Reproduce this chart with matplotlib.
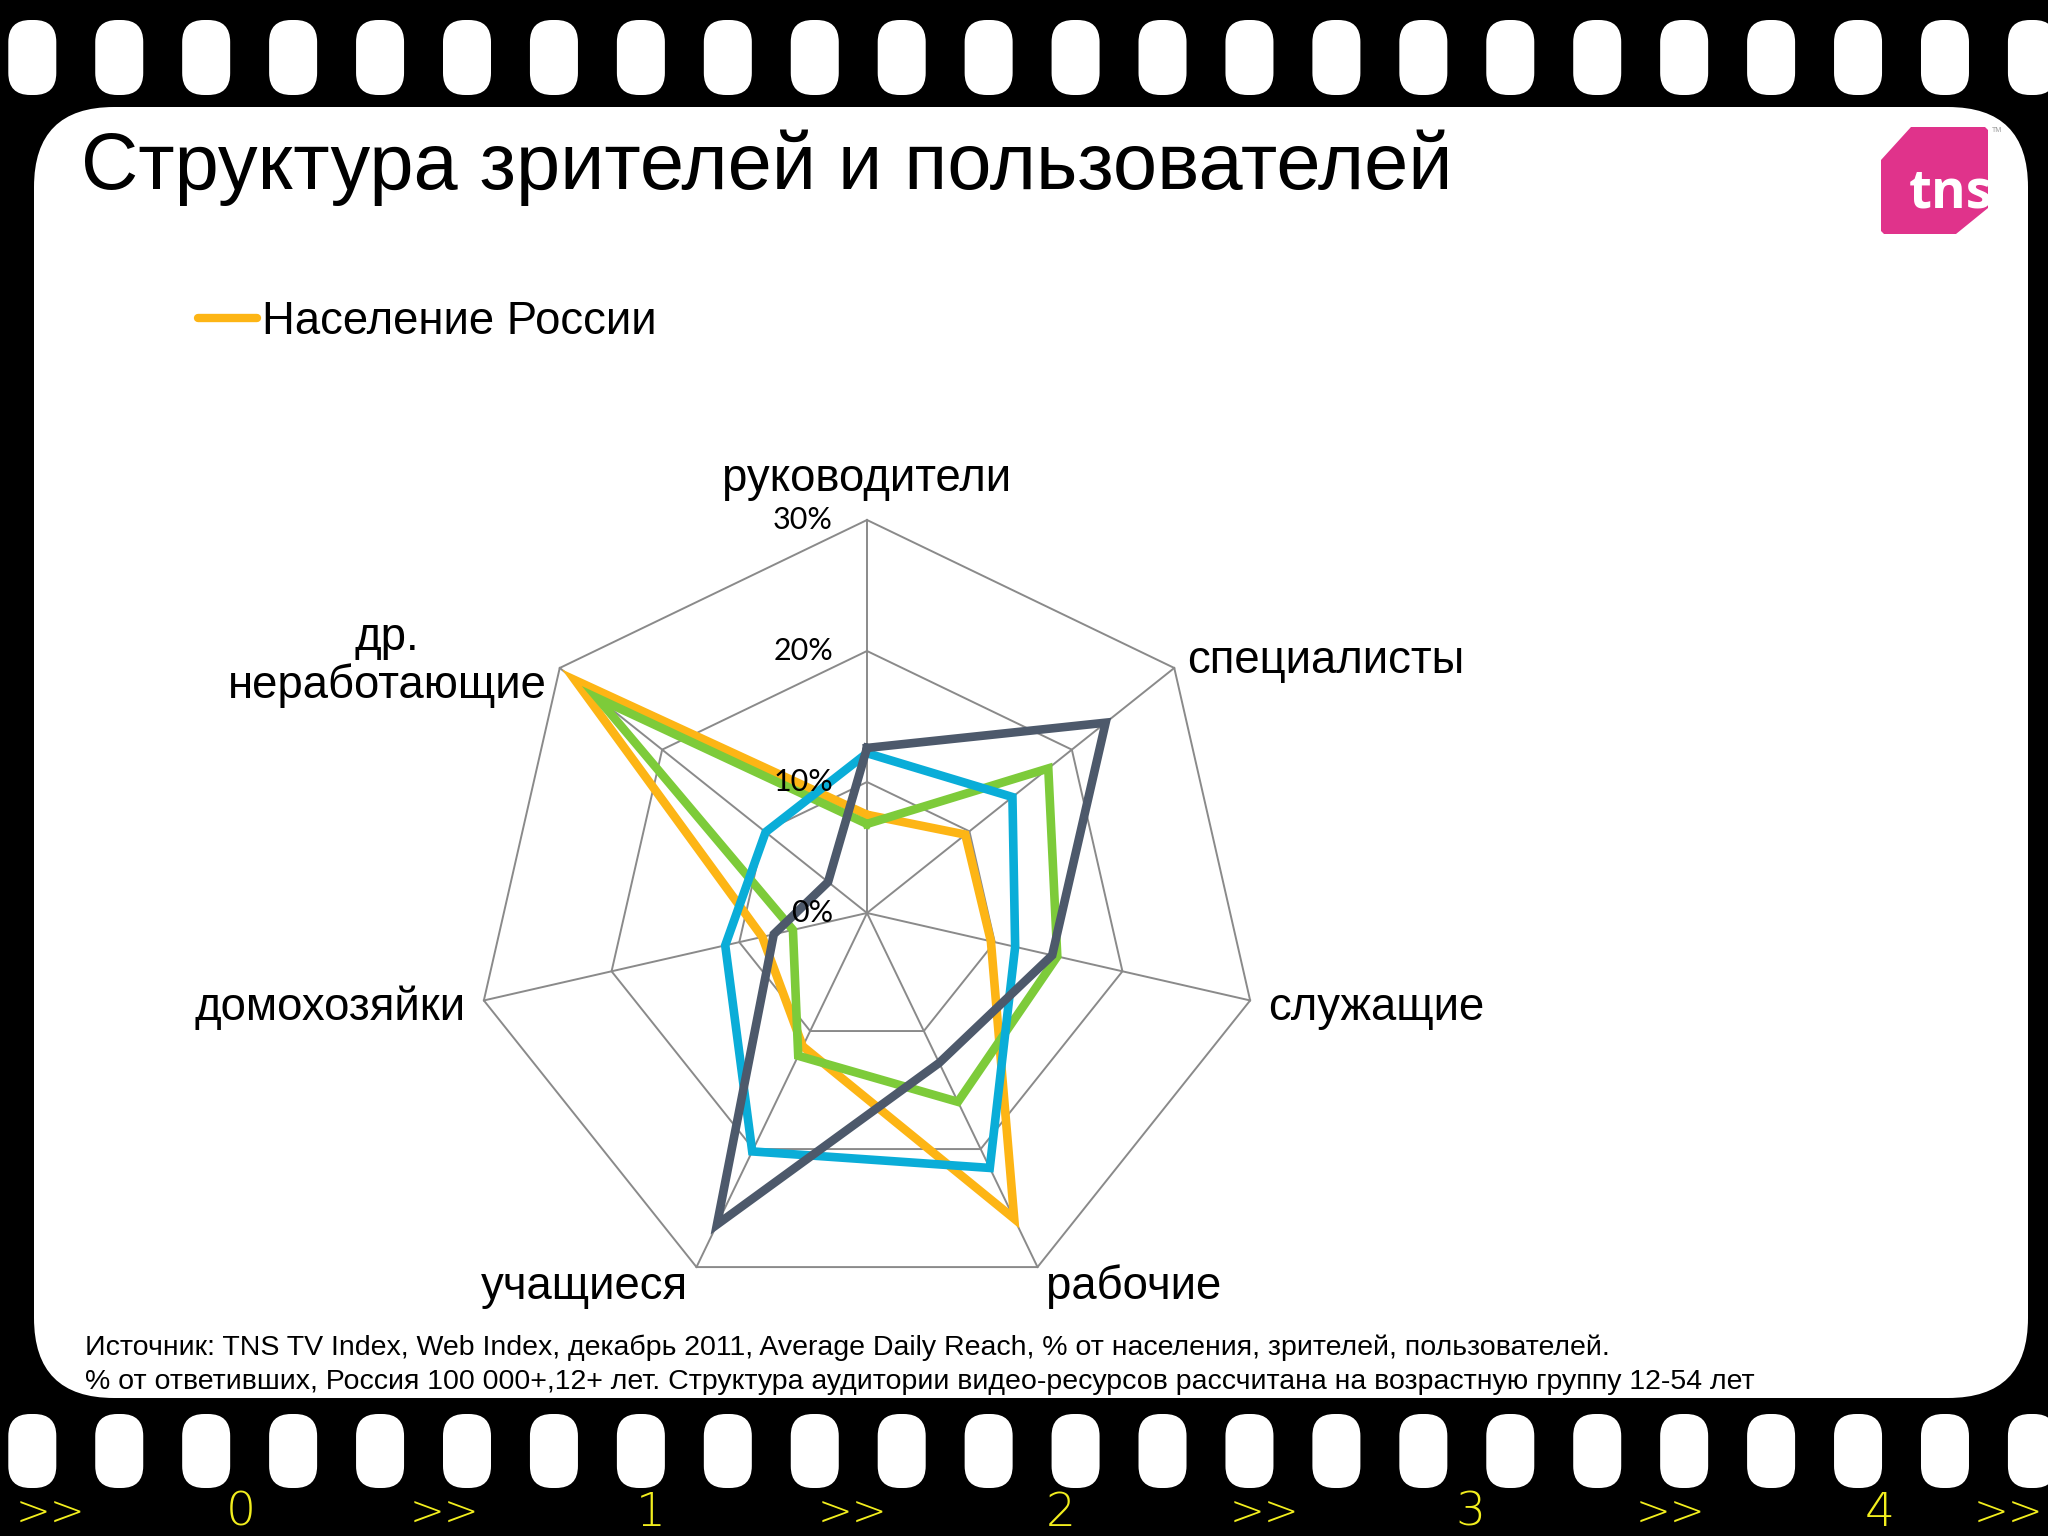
import matplotlib
matplotlib.use("Agg")
import matplotlib.pyplot as plt
from matplotlib.patches import FancyBboxPatch, Polygon
from matplotlib.lines import Line2D
import numpy as np

# ---------------- data ----------------
categories = ["руководители", "специалисты", "служащие", "рабочие",
              "учащиеся", "домохозяйки", "др.\nнеработающие"]
series_names = ["Население России", "Зрители ТВ", "Пользователи Интернет",
                "Пользователи видео-ресурсов"]
population = [7.5, 9.6, 9.7, 25.9, 11.3, 8.2, 28.5]
tv_viewers = [6.8, 17.7, 14.9, 16.0, 12.1, 5.8, 26.3]
internet_users = [12.2, 14.2, 11.6, 21.6, 20.2, 11.1, 9.9]
video_users = [12.6, 23.3, 14.5, 12.7, 26.4, 7.3, 3.8]
ring_values = [0, 10, 20, 30]
ring_labels = ["0%", "10%", "20%", "30%"]
strip_digits = ["0", "1", "2", "3", "4"]

colors = ["#FDB515", "#7DCB3A", "#0AADD8", "#4D596B"]

W, H = 2048, 1536
fig = plt.figure(figsize=(W / 100, H / 100), dpi=100, facecolor="black")

# ---------------- background / film strip ----------------
bg = fig.add_axes([0, 0, 1, 1])
bg.set_xlim(0, W)
bg.set_ylim(H, 0)
bg.axis("off")

bg.add_patch(FancyBboxPatch((34, 107), 1994, 1291,
                            boxstyle="round,pad=0,rounding_size=80",
                            fc="white", ec="none"))
for k in range(24):
    x0 = 8.3 + k * 86.94
    for (y0, y1) in [(20, 95), (1414, 1488)]:
        bg.add_patch(FancyBboxPatch((x0, y0), 48, y1 - y0,
                                    boxstyle="round,pad=0,rounding_size=22",
                                    fc="white", ec="none"))

yellow = "#F2EE1E"
strip_font = dict(family=["Liberation Sans Narrow", "DejaVu Sans"],
                  color=yellow, va="center", ha="center", fontweight="light")
for x in [50, 445, 853, 1264, 1671, 2008]:
    bg.text(x, 1513, ">>", fontsize=30, **strip_font)
for i, d in enumerate(strip_digits):
    bg.text(241 + i * 409.75, 1513, d, fontsize=34, **strip_font)

# ---------------- title ----------------
bg.text(81, 168, "Структура зрителей и пользователей", fontsize=57.2,
        family="Liberation Sans", color="black", va="center", ha="left")

# ---------------- tns logo ----------------
logo = Polygon([(1881, 160), (1911, 127), (1985, 127), (1988, 130),
                (1988, 208), (1956, 234), (1884, 234), (1881, 231)],
               closed=True, fc="#E0338B", ec="none")
bg.add_patch(logo)
t = bg.text(1909, 208, "tns", fontsize=38, fontweight="bold",
            family="Open Sans", color="white", ha="left", va="baseline")
t.set_clip_path(logo)
bg.text(1992, 131, "TM", fontsize=5, color="#999999", ha="left", va="center",
        family="Liberation Sans")

# ---------------- footnote ----------------
foot_font = dict(family="Liberation Sans", fontsize=20.5, color="black",
                 va="center", ha="left")
bg.text(85, 1348, "Источник: TNS TV Index, Web Index, декабрь 2011, Average Daily Reach, "
        "% от населения, зрителей, пользователей.", **foot_font)
bg.text(85, 1382, "% от ответивших, Россия 100 000+,12+ лет. Структура аудитории "
        "видео-ресурсов рассчитана на возрастную группу 12-54 лет", **foot_font)

# ---------------- radar ----------------
cx, cy, R = 867, 913, 393
ax = fig.add_axes([(cx - R) / W, (H - cy - R) / H, 2 * R / W, 2 * R / H])
ax.set_xlim(-30, 30)
ax.set_ylim(-30, 30)
ax.axis("off")

n = len(categories)
theta = np.arange(n) * 2 * np.pi / n
sx, sy = np.sin(theta), np.cos(theta)

grid_c = "#8A8A8A"
for r in ring_values[1:]:
    ax.plot(np.append(r * sx, r * sx[0]), np.append(r * sy, r * sy[0]),
            color=grid_c, lw=1.4, zorder=1, clip_on=False)
for i in range(n):
    ax.plot([0, 30 * sx[i]], [0, 30 * sy[i]], color=grid_c, lw=1.4, zorder=1,
            clip_on=False)

handles = []
for vals, c, name in zip([population, tv_viewers, internet_users, video_users],
                         colors, series_names):
    v = np.array(vals)
    ln, = ax.plot(np.append(v * sx, v[0] * sx[0]), np.append(v * sy, v[0] * sy[0]),
                  color=c, lw=6.2, solid_joinstyle="miter", zorder=3,
                  clip_on=False, label=name)
    handles.append(ln)

for r, lab in zip(ring_values, ring_labels):
    ax.text(-2.6, r, lab, fontsize=22, family="Lato", ha="right", va="center",
            color="black", zorder=5)

# category labels
lab_font = dict(family="Liberation Sans", fontsize=32.8, color="black")
label_pos = [(867, 479, "center"), (1187, 661, "left"), (1268, 1008, "left"),
             (1046, 1287, "left"), (688, 1287, "right"), (466, 1008, "right"),
             (387, 662, "center")]
for name, (x, y, ha) in zip(categories, label_pos):
    bg.text(x, y, name, ha=ha, va="center", multialignment="center",
            linespacing=1.1, **lab_font)

# legend (only first series visible, as in reference)
leg = fig.legend(handles=[Line2D([], [], color=colors[0], lw=6,
                                 solid_capstyle="round")],
                 labels=[series_names[0]], loc="center left",
                 bbox_to_anchor=(198 / W, 1 - 322 / H), frameon=False,
                 borderpad=0, borderaxespad=0, handlelength=1.3,
                 handletextpad=0.1,
                 prop={"family": "Liberation Sans", "size": 32.8})

fig.savefig("out.png", dpi=100, facecolor="black")
